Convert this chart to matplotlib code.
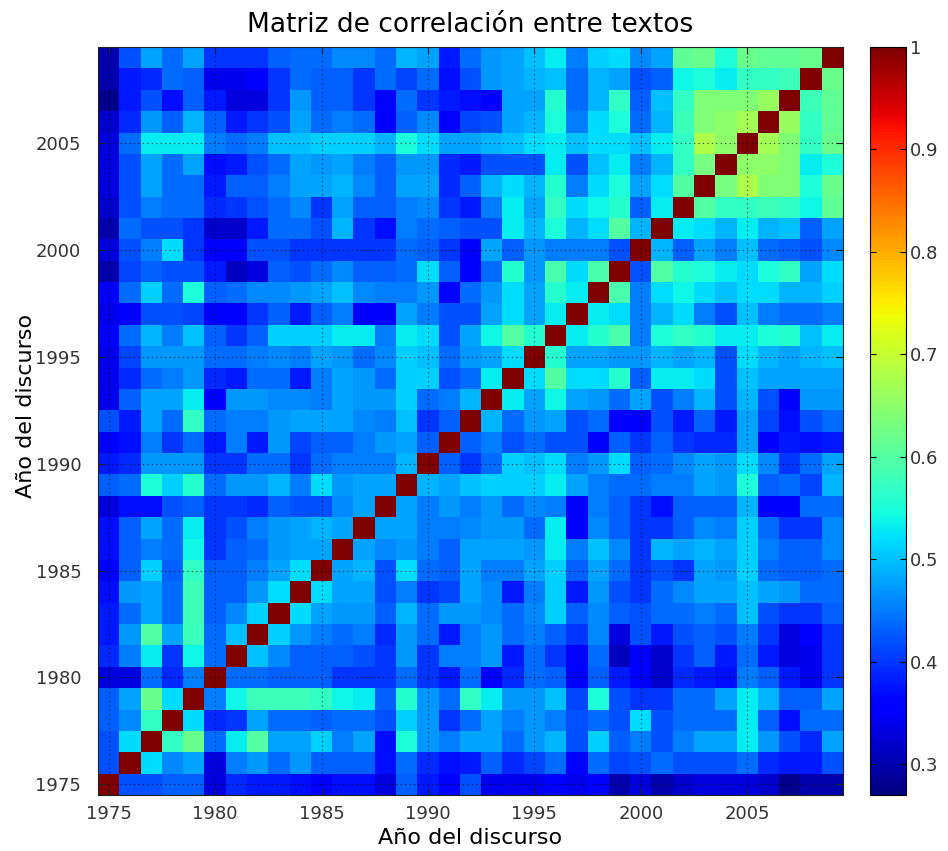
import numpy as np
import matplotlib
matplotlib.use("Agg")
import matplotlib.pyplot as plt

# Years of the speeches (rows/columns of the correlation matrix)
years = list(range(1975, 2010))

# Lower-triangle rows of the correlation matrix: row for year Y holds the
# correlations with 1975 .. Y-1 (diagonal = 1, matrix is symmetric)
r1976 = [0.42]
r1977 = [0.42, 0.52]
r1978 = [0.43, 0.46, 0.57]
r1979 = [0.43, 0.48, 0.62, 0.52]
r1980 = [0.33, 0.33, 0.44, 0.39, 0.45]
r1981 = [0.39, 0.45, 0.53, 0.40, 0.54, 0.44]
r1982 = [0.38, 0.47, 0.60, 0.48, 0.58, 0.44, 0.50]
r1983 = [0.38, 0.44, 0.48, 0.44, 0.58, 0.43, 0.46, 0.51]
r1984 = [0.37, 0.47, 0.48, 0.44, 0.58, 0.43, 0.43, 0.47, 0.52]
r1985 = [0.36, 0.43, 0.51, 0.43, 0.57, 0.43, 0.43, 0.45, 0.48, 0.52]
r1986 = [0.37, 0.43, 0.45, 0.44, 0.54, 0.40, 0.43, 0.44, 0.47, 0.48, 0.48]
r1987 = [0.37, 0.43, 0.48, 0.44, 0.53, 0.40, 0.42, 0.45, 0.47, 0.48, 0.49, 0.48]
r1988 = [0.33, 0.37, 0.37, 0.42, 0.43, 0.40, 0.40, 0.39, 0.43, 0.42, 0.42, 0.46, 0.48]
r1989 = [0.43, 0.44, 0.55, 0.51, 0.56, 0.44, 0.47, 0.47, 0.49, 0.45, 0.52, 0.47, 0.48, 0.48]
r1990 = [0.38, 0.39, 0.47, 0.47, 0.47, 0.40, 0.40, 0.44, 0.44, 0.40, 0.44, 0.45, 0.45, 0.45, 0.49]
r1991 = [0.35, 0.37, 0.45, 0.40, 0.44, 0.38, 0.45, 0.38, 0.47, 0.41, 0.43, 0.43, 0.45, 0.47, 0.48, 0.43]
r1992 = [0.42, 0.38, 0.48, 0.44, 0.57, 0.44, 0.45, 0.45, 0.47, 0.48, 0.48, 0.48, 0.46, 0.45, 0.50, 0.40, 0.43]
r1993 = [0.34, 0.43, 0.48, 0.48, 0.53, 0.36, 0.47, 0.47, 0.46, 0.46, 0.45, 0.48, 0.47, 0.47, 0.51, 0.44, 0.45,
         0.49]
r1994 = [0.34, 0.39, 0.44, 0.45, 0.47, 0.39, 0.38, 0.44, 0.44, 0.38, 0.45, 0.48, 0.47, 0.44, 0.51, 0.51, 0.42,
         0.44, 0.53]
r1995 = [0.34, 0.41, 0.47, 0.47, 0.47, 0.44, 0.44, 0.45, 0.46, 0.45, 0.48, 0.47, 0.44, 0.46, 0.51, 0.50, 0.44,
         0.47, 0.48, 0.52]
r1996 = [0.35, 0.44, 0.49, 0.45, 0.50, 0.43, 0.40, 0.43, 0.51, 0.51, 0.51, 0.53, 0.53, 0.45, 0.53, 0.52, 0.42,
         0.48, 0.54, 0.60, 0.56]
r1997 = [0.34, 0.35, 0.42, 0.42, 0.41, 0.36, 0.36, 0.40, 0.43, 0.38, 0.43, 0.45, 0.35, 0.35, 0.48, 0.45, 0.42,
         0.42, 0.48, 0.52, 0.48, 0.53]
r1998 = [0.36, 0.44, 0.51, 0.44, 0.55, 0.43, 0.44, 0.46, 0.46, 0.47, 0.48, 0.50, 0.46, 0.45, 0.45, 0.47, 0.36,
         0.44, 0.47, 0.52, 0.48, 0.56, 0.53]
r1999 = [0.30, 0.41, 0.43, 0.42, 0.42, 0.38, 0.31, 0.33, 0.43, 0.42, 0.44, 0.46, 0.43, 0.43, 0.44, 0.52, 0.43,
         0.36, 0.44, 0.56, 0.47, 0.59, 0.52, 0.59]
r2000 = [0.33, 0.42, 0.45, 0.52, 0.40, 0.35, 0.36, 0.42, 0.42, 0.40, 0.40, 0.40, 0.40, 0.40, 0.44, 0.43, 0.40,
         0.35, 0.48, 0.43, 0.47, 0.45, 0.45, 0.45, 0.42]
r2001 = [0.30, 0.44, 0.42, 0.42, 0.40, 0.32, 0.32, 0.38, 0.44, 0.44, 0.42, 0.49, 0.40, 0.37, 0.45, 0.44, 0.43,
         0.42, 0.42, 0.53, 0.49, 0.55, 0.49, 0.52, 0.60, 0.49]
r2002 = [0.32, 0.42, 0.45, 0.44, 0.44, 0.39, 0.40, 0.42, 0.44, 0.46, 0.40, 0.48, 0.43, 0.43, 0.45, 0.46, 0.40,
         0.38, 0.45, 0.53, 0.48, 0.57, 0.52, 0.54, 0.56, 0.43, 0.53]
r2003 = [0.33, 0.42, 0.48, 0.44, 0.44, 0.38, 0.43, 0.43, 0.45, 0.48, 0.48, 0.49, 0.46, 0.43, 0.48, 0.48, 0.39,
         0.43, 0.49, 0.52, 0.49, 0.56, 0.45, 0.52, 0.55, 0.48, 0.52, 0.60]
r2004 = [0.33, 0.42, 0.48, 0.44, 0.48, 0.37, 0.38, 0.42, 0.44, 0.48, 0.47, 0.48, 0.45, 0.43, 0.47, 0.47, 0.39,
         0.38, 0.42, 0.42, 0.42, 0.53, 0.42, 0.50, 0.53, 0.45, 0.49, 0.57, 0.63]
r2005 = [0.33, 0.44, 0.53, 0.53, 0.53, 0.45, 0.44, 0.45, 0.50, 0.50, 0.51, 0.51, 0.51, 0.49, 0.55, 0.52, 0.48,
         0.48, 0.49, 0.50, 0.52, 0.53, 0.50, 0.52, 0.52, 0.50, 0.53, 0.57, 0.68, 0.65]
r2006 = [0.32, 0.39, 0.47, 0.43, 0.49, 0.43, 0.38, 0.40, 0.42, 0.48, 0.44, 0.45, 0.44, 0.35, 0.43, 0.46, 0.35,
         0.41, 0.42, 0.48, 0.49, 0.55, 0.45, 0.52, 0.55, 0.44, 0.49, 0.58, 0.64, 0.65, 0.67]
r2007 = [0.28, 0.38, 0.42, 0.37, 0.43, 0.38, 0.33, 0.33, 0.40, 0.47, 0.43, 0.43, 0.40, 0.36, 0.44, 0.40, 0.38,
         0.37, 0.36, 0.48, 0.48, 0.56, 0.44, 0.49, 0.57, 0.43, 0.50, 0.57, 0.64, 0.64, 0.64, 0.66]
r2008 = [0.30, 0.38, 0.39, 0.44, 0.43, 0.34, 0.34, 0.35, 0.40, 0.44, 0.43, 0.43, 0.40, 0.44, 0.41, 0.44, 0.37,
         0.42, 0.47, 0.48, 0.49, 0.50, 0.44, 0.49, 0.48, 0.42, 0.43, 0.54, 0.55, 0.53, 0.57, 0.57, 0.58]
r2009 = [0.30, 0.42, 0.48, 0.44, 0.48, 0.40, 0.40, 0.40, 0.43, 0.44, 0.44, 0.46, 0.46, 0.44, 0.49, 0.48, 0.38,
         0.44, 0.47, 0.48, 0.50, 0.53, 0.45, 0.51, 0.52, 0.46, 0.48, 0.61, 0.62, 0.55, 0.62, 0.61, 0.61, 0.62]

lower_rows = [r1976, r1977, r1978, r1979, r1980, r1981, r1982, r1983, r1984, r1985,
              r1986, r1987, r1988, r1989, r1990, r1991, r1992, r1993, r1994, r1995,
              r1996, r1997, r1998, r1999, r2000, r2001, r2002, r2003, r2004, r2005,
              r2006, r2007, r2008, r2009]

tick_years = [1975, 1980, 1985, 1990, 1995, 2000, 2005]
cbar_ticks = [0.3, 0.4, 0.5, 0.6, 0.7, 0.8, 0.9, 1.0]
cbar_labels = ["0.3", "0.4", "0.5", "0.6", "0.7", "0.8", "0.9", "1"]

# Build the full symmetric matrix
n = len(years)
M = np.eye(n)
for i, row in enumerate(lower_rows, start=1):
    assert len(row) == i
    M[i, :i] = row
    M[:i, i] = row

W, H = 948, 851
fig = plt.figure(figsize=(W / 100, H / 100), dpi=100)
ax = fig.add_axes([98 / W, 1 - 795 / H, 745 / W, 748 / H])
cax = fig.add_axes([870 / W, 1 - 795 / H, 36 / W, 748 / H])

im = ax.imshow(M, cmap="jet", vmin=0.27, vmax=1.0, origin="lower",
               interpolation="nearest", aspect="auto",
               extent=[years[0] - 0.5, years[-1] + 0.5, years[0] - 0.5, years[-1] + 0.5])

ax.set_xticks(tick_years)
ax.set_yticks(tick_years)
ax.set_xticklabels([str(y) for y in tick_years])
ax.set_yticklabels([str(y) for y in tick_years])
ax.tick_params(axis="both", direction="in", top=True, right=True, length=5, width=0.8,
               labelsize=13, labelcolor="#333333", color="#222222")
ax.tick_params(axis="x", pad=7)
ax.tick_params(axis="y", pad=12)
ax.grid(True, linestyle=(0, (1, 3)), color="black", linewidth=0.8, alpha=0.75)
ax.set_axisbelow(False)
for s in ax.spines.values():
    s.set_linewidth(0.8)
    s.set_color("#222222")

ax.set_title("Matriz de correlación entre textos", fontsize=19, pad=11, color="black")
ax.set_xlabel("Año del discurso", fontsize=16, labelpad=4, color="black")
ax.set_ylabel("Año del discurso", fontsize=16, color="black")
ax.yaxis.set_label_coords(-0.083, 0.52)

cb = fig.colorbar(im, cax=cax)
cb.set_ticks(cbar_ticks)
cb.set_ticklabels(cbar_labels)
cb.ax.tick_params(direction="in", left=True, right=True, length=4, width=0.8,
                  labelsize=13, labelcolor="#333333", pad=3)
cb.outline.set_linewidth(0.8)

fig.savefig("out.png", dpi=100)
